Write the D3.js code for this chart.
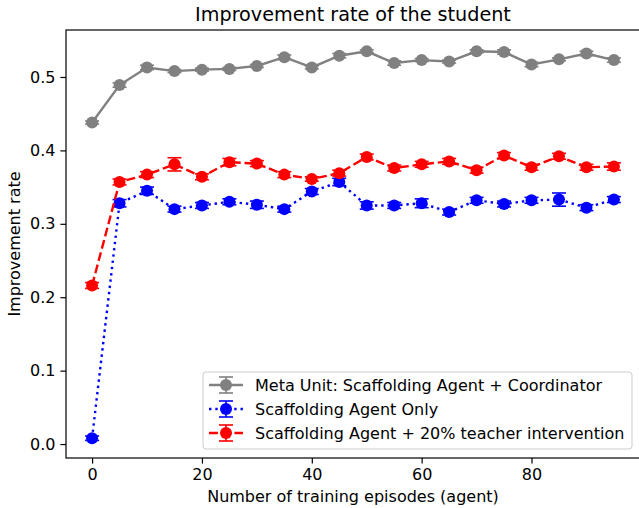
<!DOCTYPE html>
<html>
<head>
<meta charset="utf-8">
<title>Improvement rate</title>
<style>
  body { margin: 0; background: #fff; }
  svg { display: block; font-family: "DejaVu Sans", sans-serif; }
</style>
<script src="https://d3js.org/d3.v7.min.js"></script>
</head>
<body>
<div id="chart"></div>
<script>
// episodes
var episodes = [0, 5, 10, 15, 20, 25, 30, 35, 40, 45, 50, 55, 60, 65, 70, 75, 80, 85, 90, 95];

// Meta Unit: Scaffolding Agent + Coordinator
var metaVals = [0.438, 0.489, 0.513, 0.508, 0.510, 0.511, 0.515, 0.527, 0.513, 0.529,
                0.535, 0.519, 0.523, 0.521, 0.535, 0.534, 0.517, 0.524, 0.532, 0.523];
var metaErr  = [0.002, 0.003, 0.003, 0.002, 0.002, 0.002, 0.002, 0.003, 0.002, 0.003,
                0.002, 0.003, 0.002, 0.002, 0.002, 0.003, 0.003, 0.002, 0.003, 0.003];

// Scaffolding Agent Only
var onlyVals = [0.008, 0.328, 0.345, 0.320, 0.325, 0.330, 0.326, 0.320, 0.344, 0.357,
                0.325, 0.325, 0.328, 0.316, 0.332, 0.327, 0.332, 0.333, 0.322, 0.333];
var onlyErr  = [0.003, 0.005, 0.005, 0.004, 0.004, 0.004, 0.005, 0.004, 0.004, 0.005,
                0.005, 0.004, 0.006, 0.004, 0.004, 0.004, 0.004, 0.009, 0.004, 0.004];

// Scaffolding Agent + 20% teacher intervention
var teachVals = [0.216, 0.357, 0.367, 0.381, 0.364, 0.384, 0.382, 0.367, 0.361, 0.369,
                 0.391, 0.376, 0.381, 0.385, 0.373, 0.393, 0.377, 0.392, 0.377, 0.378];
var teachErr  = [0.004, 0.004, 0.004, 0.009, 0.004, 0.005, 0.004, 0.004, 0.003, 0.004,
                 0.004, 0.004, 0.004, 0.004, 0.004, 0.004, 0.004, 0.004, 0.004, 0.005];

var legendLabels = ["Meta Unit: Scaffolding Agent + Coordinator",
                    "Scaffolding Agent Only",
                    "Scaffolding Agent + 20% teacher intervention"];
var xTicks = [0, 20, 40, 60, 80];
var yTicks = [0.0, 0.1, 0.2, 0.3, 0.4, 0.5];

var svgDims = {width: 639, height: 508};
var plot = {left: 66, top: 30, right: 640, bottom: 458};
var fs = 16, fsTitle = 19.2;

var svg = d3.select("#chart").append("svg")
  .attr("width", svgDims.width)
  .attr("height", svgDims.height);

var x = d3.scaleLinear().domain([-4.75, 99.75]).range([plot.left, plot.right]);
var y = d3.scaleLinear().domain([-0.019, 0.564]).range([plot.bottom, plot.top]);

var series = [
  {vals: metaVals, err: metaErr, color: "#808080", dash: null},
  {vals: onlyVals, err: onlyErr, color: "#0000ff", dash: "2.4,3.9"},
  {vals: teachVals, err: teachErr, color: "#ff0000", dash: "8.9,3.8"}
];

var capW = 7;

var line = d3.line()
  .x(function(d) { return x(d.x); })
  .y(function(d) { return y(d.y); });

series.forEach(function(s) {
  var pts = episodes.map(function(e, i) { return {x: e, y: s.vals[i], e: s.err[i]}; });
  var g = svg.append("g");
  g.append("path")
    .datum(pts)
    .attr("fill", "none")
    .attr("stroke", s.color)
    .attr("stroke-width", 2.4)
    .attr("stroke-dasharray", s.dash)
    .attr("d", line);
  var eb = g.selectAll(".eb").data(pts).enter().append("g");
  eb.append("line")
    .attr("x1", function(d) { return x(d.x); })
    .attr("x2", function(d) { return x(d.x); })
    .attr("y1", function(d) { return y(d.y - d.e); })
    .attr("y2", function(d) { return y(d.y + d.e); })
    .attr("stroke", s.color).attr("stroke-width", 1.6);
  [-1, 1].forEach(function(sg) {
    eb.append("line")
      .attr("x1", function(d) { return x(d.x) - capW; })
      .attr("x2", function(d) { return x(d.x) + capW; })
      .attr("y1", function(d) { return y(d.y + sg * d.e); })
      .attr("y2", function(d) { return y(d.y + sg * d.e); })
      .attr("stroke", s.color).attr("stroke-width", 1.6);
  });
  g.selectAll("circle").data(pts).enter().append("circle")
    .attr("cx", function(d) { return x(d.x); })
    .attr("cy", function(d) { return y(d.y); })
    .attr("r", 6)
    .attr("fill", s.color);
});

// axes
var xAxis = d3.axisBottom(x).tickValues(xTicks).tickFormat(d3.format("d")).tickSizeOuter(0).tickSize(5.6).tickPadding(5);
var yAxis = d3.axisLeft(y).tickValues(yTicks).tickFormat(d3.format(".1f")).tickSizeOuter(0).tickSize(5.6).tickPadding(5);

var gx = svg.append("g").attr("transform", "translate(0," + plot.bottom + ")").call(xAxis);
var gy = svg.append("g").attr("transform", "translate(" + plot.left + ",0)").call(yAxis);
[gx, gy].forEach(function(a) {
  a.selectAll("text").attr("font-size", fs).attr("font-family", "DejaVu Sans").attr("fill", "#000");
  a.selectAll("line").attr("stroke", "#000").attr("stroke-width", 1.2);
  a.select(".domain").remove();
});

// spines
svg.append("rect")
  .attr("x", plot.left).attr("y", plot.top)
  .attr("width", plot.right - plot.left).attr("height", plot.bottom - plot.top)
  .attr("fill", "none").attr("stroke", "#000").attr("stroke-width", 1.2);

// title and labels
svg.append("text").attr("x", (plot.left + plot.right) / 2).attr("y", 21)
  .attr("text-anchor", "middle").attr("font-size", fsTitle).text("Improvement rate of the student");
svg.append("text").attr("x", (plot.left + plot.right) / 2).attr("y", 502)
  .attr("text-anchor", "middle").attr("font-size", fs).text("Number of training episodes (agent)");
svg.append("text").attr("transform", "translate(20," + ((plot.top + plot.bottom) / 2) + ") rotate(-90)")
  .attr("text-anchor", "middle").attr("font-size", fs).text("Improvement rate");

// legend
var lg = svg.append("g").attr("transform", "translate(203,372)");
lg.append("rect").attr("width", 429).attr("height", 77).attr("rx", 3)
  .attr("fill", "#fff").attr("fill-opacity", 0.8).attr("stroke", "#cccccc").attr("stroke-width", 1);
series.forEach(function(s, i) {
  var cy = 13 + i * 24;
  var it = lg.append("g").attr("transform", "translate(0," + cy + ")");
  it.append("line").attr("x1", 6).attr("x2", 40).attr("y1", 0).attr("y2", 0)
    .attr("stroke", s.color).attr("stroke-width", 2.4).attr("stroke-dasharray", s.dash);
  it.append("line").attr("x1", 23).attr("x2", 23).attr("y1", -8).attr("y2", 8)
    .attr("stroke", s.color).attr("stroke-width", 1.6);
  [-8, 8].forEach(function(dy) {
    it.append("line").attr("x1", 23 - capW).attr("x2", 23 + capW).attr("y1", dy).attr("y2", dy)
      .attr("stroke", s.color).attr("stroke-width", 1.6);
  });
  it.append("circle").attr("cx", 23).attr("cy", 0).attr("r", 6).attr("fill", s.color);
  it.append("text").attr("x", 52).attr("y", 6).attr("font-size", fs).text(legendLabels[i]);
});
</script>
</body>
</html>
